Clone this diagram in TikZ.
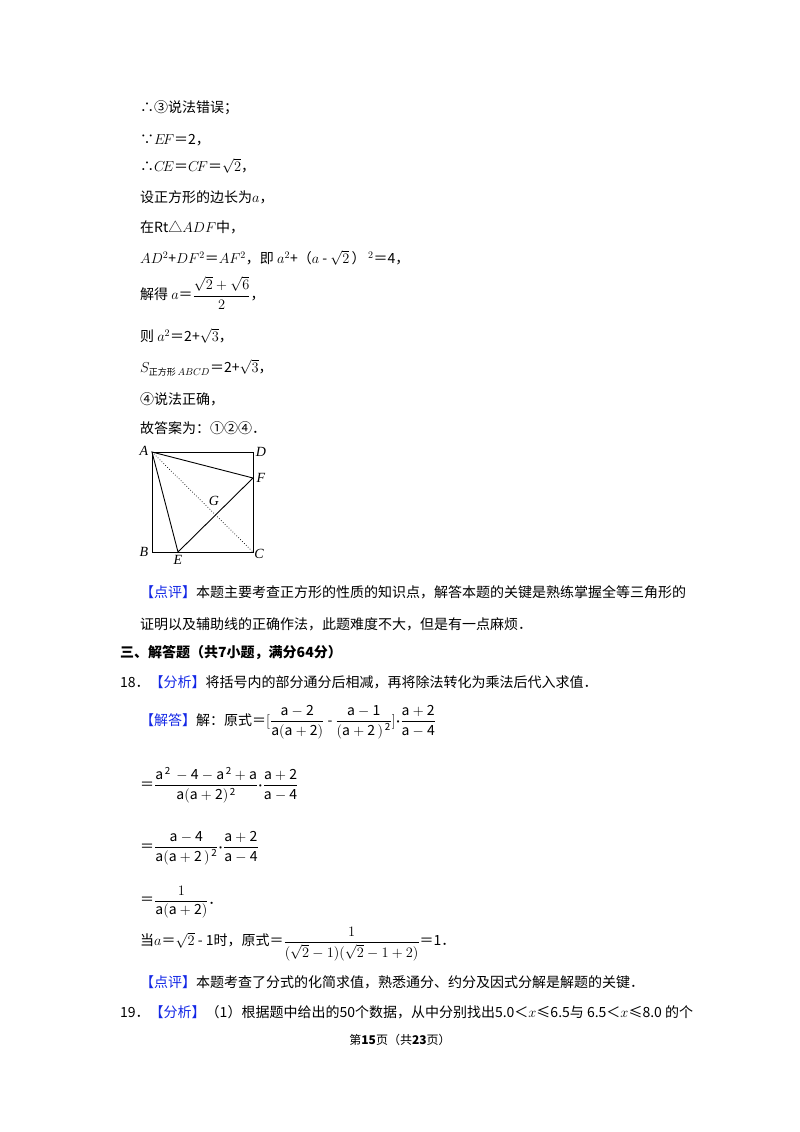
\documentclass[tikz,border=0pt]{standalone}
\usepackage{fontspec}
\usepackage{amsmath}
\setmainfont{Noto Sans CJK SC}
\newfontfamily\serifl{Liberation Serif}
\definecolor{kblue}{RGB}{20,40,230}
\tikzset{txt/.style={anchor=west,inner sep=0pt,font=\fontsize{14}{16}\selectfont},
 lab/.style={inner sep=0pt,font=\fontsize{14}{15}\selectfont\serifl\itshape},
 edge/.style={line width=0.9pt}}
\newcommand{\kb}[1]{\textcolor{kblue}{#1}}
\begin{document}
\begin{tikzpicture}[x=1pt,y=-1pt]
\useasboundingbox[fill=white] (0,0) rectangle (800,1132);
\node[txt] (l1) at (140,108) {∴③说法错误；};
\node[txt] (l2) at (140,140) {∵$E\!F$＝2，};
\node[txt] (l3) at (140,166) {∴$C\!E$＝$C\!F$＝$\sqrt{2}$，};
\node[txt] (l4) at (140,197) {设正方形的边长为$a$，};
\node[txt] (l5) at (140,227) {在Rt△$ADF$中，};
\node[txt] (l6) at (140,258) {$AD^2$+$DF^2$＝$AF^2$，即 $a^2$+（$a$ - $\sqrt{2}$\,）\,$^2$＝4，};
\node[txt] (l7) at (140,293) {解得 $a$＝$\dfrac{\sqrt{2}+\sqrt{6}}{2}$，};
\node[txt] (l8) at (140,336) {则 $a^2$＝2+$\sqrt{3}$，};
\node[txt] (l9) at (140,368) {$S_{\text{\fontsize{9}{9}\selectfont 正方形}\,ABCD}$＝2+$\sqrt{3}$，};
\node[txt] (l10) at (140,399) {④说法正确，};
\node[txt] (l11) at (140,428) {故答案为：①②④．};
% figure
\coordinate (A) at (152,452); \coordinate (D) at (253,452);
\coordinate (B) at (152,552); \coordinate (C) at (253,552);
\coordinate (F) at (253,478); \coordinate (E) at (178,552);
\draw[line width=0.5pt] (A) -- (B) -- (C) -- (D);
\draw[edge] (A) -- (D);
\draw[edge] (A) -- (F) -- (E) -- cycle;
\draw[dotted,line width=0.7pt] (A) -- (C);
\node[lab] (la) at (144,451) {A};
\node[lab] (ld) at (261,452) {D};
\node[lab] (lf) at (261,478) {F};
\node[lab] (lb) at (144,552) {B};
\node[lab] (le) at (178,560) {E};
\node[lab] (lc) at (259,554) {C};
\node[lab] (lg) at (214,501) {G};
\node[txt] (p1) at (140,592) {\kb{【点评】}本题主要考查正方形的性质的知识点，解答本题的关键是熟练掌握全等三角形的};
\node[txt] (p2) at (140,624) {证明以及辅助线的正确作法，此题难度不大，但是有一点麻烦．};
\node[txt,font=\fontsize{14}{16}\selectfont\bfseries] (h3) at (120,653) {三、解答题（共7小题，满分64分）};
\node[txt] (q18) at (120,682) {18．\kb{【分析】}将括号内的部分通分后相减，再将除法转化为乘法后代入求值．};
\node[txt] (s1) at (140,722) {\kb{【解答】}解：原式＝$[\dfrac{\mathrm{a-2}}{\mathrm{a(a+2)}}$ - $\dfrac{\mathrm{a-1}}{\mathrm{(a+2\,)^{\,2}}}]{\boldsymbol\cdot}\dfrac{\mathrm{a+2}}{\mathrm{a-4}}$};
\node[txt] (s2) at (140,785) {＝$\dfrac{\mathrm{a^{\,2}\,-4-a^{\,2}+a}}{\mathrm{a(a+2)^{\,2}}}{\boldsymbol\cdot}\dfrac{\mathrm{a+2}}{\mathrm{a-4}}$};
\node[txt] (s3) at (140,848) {＝$\dfrac{\mathrm{a-4}}{\mathrm{a(a+2\,)^{\,2}}}{\boldsymbol\cdot}\dfrac{\mathrm{a+2}}{\mathrm{a-4}}$};
\node[txt] (s4) at (140,902) {＝$\dfrac{1}{\mathrm{a(a+2)}}$．};
\node[txt] (s5) at (140,944) {当$a$＝$\sqrt{2}$ - 1时，原式＝$\dfrac{1}{(\sqrt{2}-1)(\sqrt{2}-1+2)}$＝1．};
\node[txt] (p3) at (140,982) {\kb{【点评】}本题考查了分式的化简求值，熟悉通分、约分及因式分解是解题的关键．};
\node[txt] (q19) at (120,1012) {19．\kb{【分析】}（1）根据题中给出的50个数据，从中分别找出5.0＜$x$≤6.5与 6.5＜$x$≤8.0 的个};
\node[inner sep=0pt,font=\fontsize{12}{14}\selectfont] (pg) at (400,1040) {第\textbf{15}页（共\textbf{23}页）};
\end{tikzpicture}
\end{document}
